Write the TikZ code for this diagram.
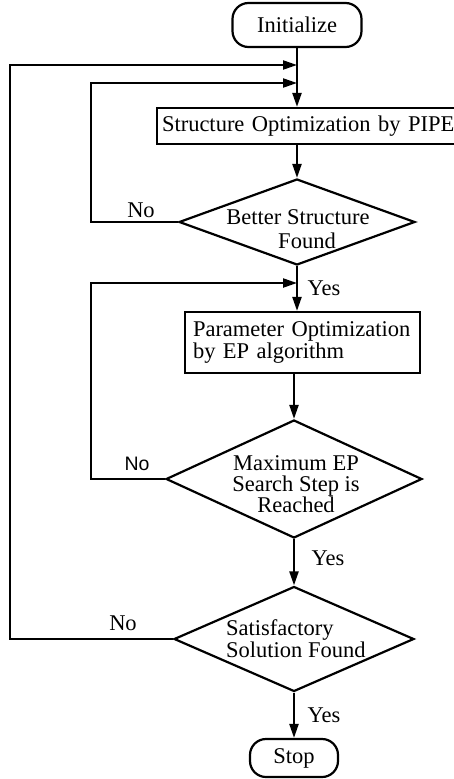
\documentclass[tikz,border=0pt]{standalone}
\usepackage{fontspec}
\setmainfont{Liberation Serif}
\newfontfamily\labelsans{Liberation Sans}
\usetikzlibrary{shapes.geometric,arrows.meta}
\begin{document}
\begin{tikzpicture}[x=1pt,y=-1pt,
  every node/.style={font=\fontsize{22.5}{22}\selectfont},
  wire/.style={line width=2.2pt},
  flow/.style={line width=2.2pt,-{Triangle[length=14pt,width=9pt]}},
  terminal/.style={draw,line width=2.2pt,rounded corners=16pt,inner sep=0pt},
  process/.style={draw,line width=2.2pt,inner ysep=0pt,align=left},
  decision/.style={draw,diamond,line width=2.2pt,inner sep=0pt},
  caption/.style={inner sep=0pt,anchor=base},
  answer/.style={inner sep=0pt},
  ]
\useasboundingbox (0,0) rectangle (454,779);
\clip (0,0) rectangle (454,779);

% terminals and steps (a multi-line caption sits on the baseline of its last line)
\node[terminal,minimum width=129pt,minimum height=44pt] (init) at (297,25) {Initialize};
\node[process,inner xsep=5pt,text width=296pt,minimum height=36pt] (pipe) at (310,126)
  {Structure Optimization by PIPE};
\node[decision,minimum width=236pt,minimum height=86pt] (q1) at (297,222) {};
\node[caption,align=center,font=\fontsize{22.5}{24}\selectfont] (q1t) at (298,248)
  {Better Structure\\\hspace*{18pt}Found};
\node[process,inner xsep=8pt,text width=219pt,minimum height=61pt] (ep) at (302.5,342.5)
  {Parameter Optimization\\by EP algorithm};
\node[decision,minimum width=256pt,minimum height=118pt] (q2) at (294,479) {};
\node[caption,align=center,font=\fontsize{22.5}{21}\selectfont] (q2t) at (296,512)
  {Maximum EP\\Search Step is\\Reached};
\node[decision,minimum width=240pt,minimum height=105pt] (q3) at (294,639) {};
\node[caption,anchor=base west,align=left] (q3t) at (226,657)
  {Satisfactory\\Solution Found};
\node[terminal,minimum width=88pt,minimum height=38pt] (stop) at (294,758) {Stop};

% junctions on the main line and loop corners
\coordinate (j1) at (297,65);
\coordinate (j2) at (297,83);
\coordinate (j3) at (297,283);
\coordinate (c1) at (10,65);
\coordinate (c2) at (91,83);
\coordinate (c3) at (91,283);

% main flow
\draw[flow] (init.south) -- (init.south |- pipe.north);
\draw[flow] (q1.north |- pipe.south) -- (q1.north);
\draw[flow] (q1.south) -- (q1.south |- ep.north);
\draw[flow] (q2.north |- ep.south) -- (q2.north);
\draw[flow] (q2.south) -- (q3.north);
\draw[flow] (q3.south) -- (stop.north);

% feedback loops
\draw[flow] (q1.west) -| (c2) -- (j2);
\draw[flow] (q2.west) -| (c3) -- (j3);
\draw[flow] (q3.west) -| (c1) -- (j1);

% branch labels
\node[answer] (no1) at (141,210) {No};
\node[answer,font=\labelsans\fontsize{19.5}{20}\selectfont] (no2) at (137,464) {No};
\node[answer] (no3) at (123,623) {No};
\node[answer] (yes1) at (324,288) {Yes};
\node[answer] (yes2) at (328,558) {Yes};
\node[answer] (yes3) at (324,715) {Yes};
\end{tikzpicture}
\end{document}
